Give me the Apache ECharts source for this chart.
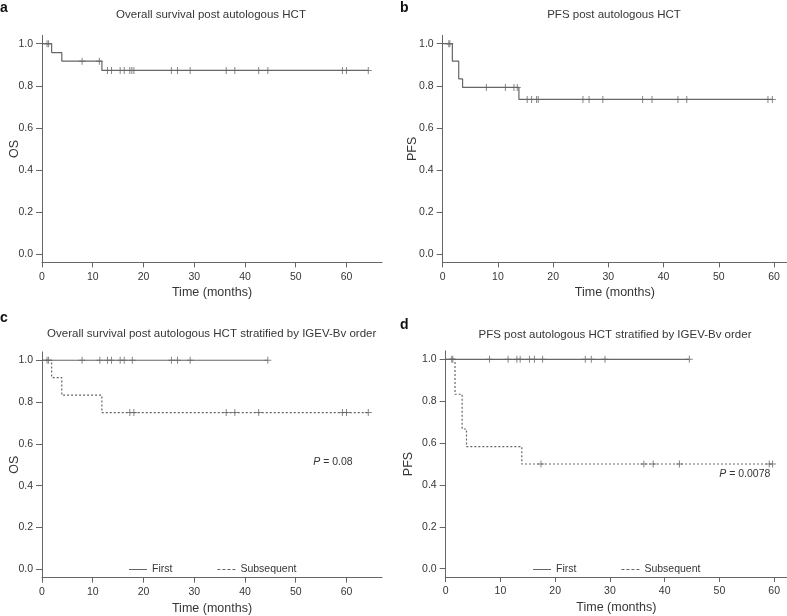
<!DOCTYPE html>
<html><head><meta charset="utf-8">
<script src="https://cdn.jsdelivr.net/npm/echarts@6/dist/echarts.min.js"></script>
<style>html,body{margin:0;padding:0;background:#fff}#c{width:787px;height:616px}</style>
</head><body><div id="c"></div>
<script>
// ---- tick labels ----
const yTicks = [0, 0.2, 0.4, 0.6, 0.8, 1.0];
const xTicks = [0, 10, 20, 30, 40, 50, 60];

// ---- panel a: OS overall ----
const osAllTime = [0, 1.9, 3.9, 11.8, 64.3];
const osAllSurv = [1, 0.958, 0.917, 0.873, 0.873];
const osAllCens = [1.0, 1.3, 7.9, 11.3, 12.9, 13.7, 15.4, 16.2, 17.3, 17.7, 18.1, 25.5, 26.7, 29.2, 36.3, 38.0, 42.7, 44.5, 59.2, 60.0, 64.3];

// ---- panel b: PFS overall ----
const pfsAllTime = [0, 1.75, 2.9, 3.6, 13.8, 59.7];
const pfsAllSurv = [1, 0.917, 0.833, 0.792, 0.735, 0.735];
const pfsAllCens = [1.1, 1.3, 7.9, 11.35, 12.9, 13.5, 15.3, 16.1, 17.0, 17.3, 25.4, 26.5, 29.0, 36.2, 37.9, 42.6, 44.2, 58.9, 59.7];

// ---- panel c: OS by IGEV-Bv order ----
const osFirstTime = [0, 44.5];
const osFirstSurv = [1, 1];
const osFirstCens = [1.0, 1.3, 7.9, 11.4, 12.9, 13.7, 15.4, 16.2, 17.8, 25.5, 26.7, 29.2, 44.5];
const osSubTime = [0, 1.9, 3.9, 11.8, 64.3];
const osSubSurv = [1, 0.917, 0.833, 0.75, 0.75];
const osSubCens = [17.3, 18.1, 36.3, 38.0, 42.7, 59.2, 60.0, 64.3];

// ---- panel d: PFS by IGEV-Bv order ----
const pfsFirstTime = [0, 44.5];
const pfsFirstSurv = [1, 1];
const pfsFirstCens = [1.1, 1.3, 8.0, 11.4, 13.0, 13.6, 15.3, 16.2, 17.7, 25.5, 26.6, 29.1, 44.5];
const pfsSubTime = [0, 1.7, 3.0, 3.8, 13.9, 59.7];
const pfsSubSurv = [1, 0.833, 0.667, 0.583, 0.5, 0.5];
const pfsSubCens = [17.4, 36.2, 37.9, 42.7, 59.1, 59.7];

const titles = ['Overall survival post autologous HCT', 'PFS post autologous HCT',
  'Overall survival post autologous HCT stratified by IGEV-Bv order',
  'PFS post autologous HCT stratified by IGEV-Bv order'];
const panelLetters = ['a', 'b', 'c', 'd'];
const yNames = ['OS', 'PFS', 'OS', 'PFS'];
const legendNames = ['First', 'Subsequent'];
const pValues = ['0.08', '0.0078'];

const FONT = '"Liberation Sans", Arial, Helvetica, sans-serif';
const LINE = '#666666';
const TEXT = '#363636';
const CROSS = 'path://M3,0 L4,0 L4,3 L7,3 L7,4 L4,4 L4,7 L3,7 L3,4 L0,4 L0,3 L3,3 Z';
const ICON_SOLID = 'path://M0,0 L18,0 L18,1 L0,1 Z';
const ICON_DOTTED = 'path://M0,0 L3,0 L3,1 L0,1 Z M5,0 L8,0 L8,1 L5,1 Z M10,0 L13,0 L13,1 L10,1 Z M15,0 L18,0 L18,1 L15,1 Z';

function survAt(times, surv, t) {
  let v = surv[0];
  for (let i = 0; i < times.length; i++) if (times[i] <= t) v = surv[i];
  return v;
}
function stepData(times, surv) { return times.map((t, i) => [t, surv[i]]); }
function censData(times, surv, cens) { return cens.map(t => [t, survAt(times, surv, t)]); }

const grids = [
  { left: 42, top: 35.3, width: 340, height: 227.1 },
  { left: 442.7, top: 35.3, width: 344.3, height: 227.1 },
  { left: 42, top: 351.9, width: 340, height: 225.8 },
  { left: 445.7, top: 350.9, width: 341.3, height: 226.2 }
];
const xMax = [67, 62.35, 67, 62.34];
const yNameGap = [21, 23.5, 21, 31];

const xAxes = grids.map((g, i) => ({
  type: 'value', gridIndex: i, min: 0, max: xMax[i],
  name: 'Time (months)', nameLocation: 'middle', nameGap: 24,
  nameTextStyle: { fontFamily: FONT, fontSize: 12.5, color: TEXT },
  axisLine: { show: true, onZero: false, lineStyle: { color: LINE, width: 1 } },
  axisTick: { show: true, length: 5, inside: false, customValues: xTicks, lineStyle: { color: LINE } },
  axisLabel: { customValues: xTicks, margin: 9, fontFamily: FONT, fontSize: 10.5, color: TEXT },
  splitLine: { show: false }
}));
const yAxes = grids.map((g, i) => ({
  type: 'value', gridIndex: i, min: -0.04, max: 1.04,
  name: yNames[i], nameLocation: 'middle', nameGap: yNameGap[i], nameMoveOverlap: false,
  nameTextStyle: { fontFamily: FONT, fontSize: 12.5, color: TEXT },
  axisLine: { show: true, onZero: false, lineStyle: { color: LINE, width: 1 } },
  axisTick: { show: true, length: 6, inside: false, customValues: yTicks, lineStyle: { color: LINE } },
  axisLabel: { customValues: yTicks, margin: 9, fontFamily: FONT, fontSize: 10.5, color: TEXT,
    formatter: v => v.toFixed(1) },
  splitLine: { show: false }
}));

function lineSeries(name, idx, times, surv, dashed) {
  return { name, type: 'line', step: 'end', xAxisIndex: idx, yAxisIndex: idx,
    data: stepData(times, surv), symbol: 'none', showSymbol: false, silent: true,
    lineStyle: { color: LINE, width: 1.2, type: dashed ? [2, 2] : 'solid' },
    itemStyle: { color: LINE } };
}
function censSeries(name, idx, times, surv, cens) {
  return { name, type: 'scatter', xAxisIndex: idx, yAxisIndex: idx,
    data: censData(times, surv, cens), symbol: CROSS, symbolSize: 7, silent: true,
    itemStyle: { color: LINE } };
}

const series = [
  lineSeries('OS overall', 0, osAllTime, osAllSurv, false),
  censSeries('OS overall censored', 0, osAllTime, osAllSurv, osAllCens),
  lineSeries('PFS overall', 1, pfsAllTime, pfsAllSurv, false),
  censSeries('PFS overall censored', 1, pfsAllTime, pfsAllSurv, pfsAllCens),
  lineSeries(legendNames[0], 2, osFirstTime, osFirstSurv, false),
  censSeries('OS first censored', 2, osFirstTime, osFirstSurv, osFirstCens),
  lineSeries(legendNames[1], 2, osSubTime, osSubSurv, true),
  censSeries('OS subsequent censored', 2, osSubTime, osSubSurv, osSubCens),
  lineSeries(legendNames[0], 3, pfsFirstTime, pfsFirstSurv, false),
  censSeries('PFS first censored', 3, pfsFirstTime, pfsFirstSurv, pfsFirstCens),
  lineSeries(legendNames[1], 3, pfsSubTime, pfsSubSurv, true),
  censSeries('PFS subsequent censored', 3, pfsSubTime, pfsSubSurv, pfsSubCens)
];

const legendBase = {
  data: [{ name: legendNames[0], icon: ICON_SOLID }, { name: legendNames[1], icon: ICON_DOTTED }],
  itemWidth: 18, itemHeight: 1.2, itemGap: 45,
  selectedMode: false, itemStyle: { color: LINE, borderWidth: 0 },
  textStyle: { fontFamily: FONT, fontSize: 10.5, color: TEXT }
};
const legends = [
  Object.assign({ left: 124, top: 559 }, legendBase),
  Object.assign({ left: 528, top: 559 }, legendBase)
];

const titlePos = [[211, 15], [614, 15], [211.7, 334.3], [615, 335]];
const letterPos = [[0, 8.5], [400, 8.5], [0, 318.3], [400, 325]];
const pPos = [[313.3, 461.7], [719.3, 474]];

const graphic = [];
titles.forEach((t, i) => graphic.push({ type: 'text', x: titlePos[i][0], y: titlePos[i][1], silent: true,
  style: { text: t, font: '11.5px ' + FONT, fill: TEXT, align: 'center', verticalAlign: 'middle' } }));
panelLetters.forEach((t, i) => graphic.push({ type: 'text', x: letterPos[i][0], y: letterPos[i][1], silent: true,
  style: { text: t, font: 'bold 14px ' + FONT, fill: '#111', align: 'left', verticalAlign: 'middle' } }));
pValues.forEach((p, i) => graphic.push({ type: 'text', x: pPos[i][0], y: pPos[i][1], silent: true,
  style: { text: '{i|P} = ' + p, font: '10.5px ' + FONT, fill: TEXT, align: 'left', verticalAlign: 'middle',
    rich: { i: { fontStyle: 'italic', fontFamily: FONT, fontSize: 10.5, fill: TEXT } } } }));

const chart = echarts.init(document.getElementById('c'), null, { renderer: 'canvas' });
chart.setOption({
  animation: false, backgroundColor: '#fff',
  grid: grids, xAxis: xAxes, yAxis: yAxes, series, legend: legends, graphic
});
</script></body></html>
